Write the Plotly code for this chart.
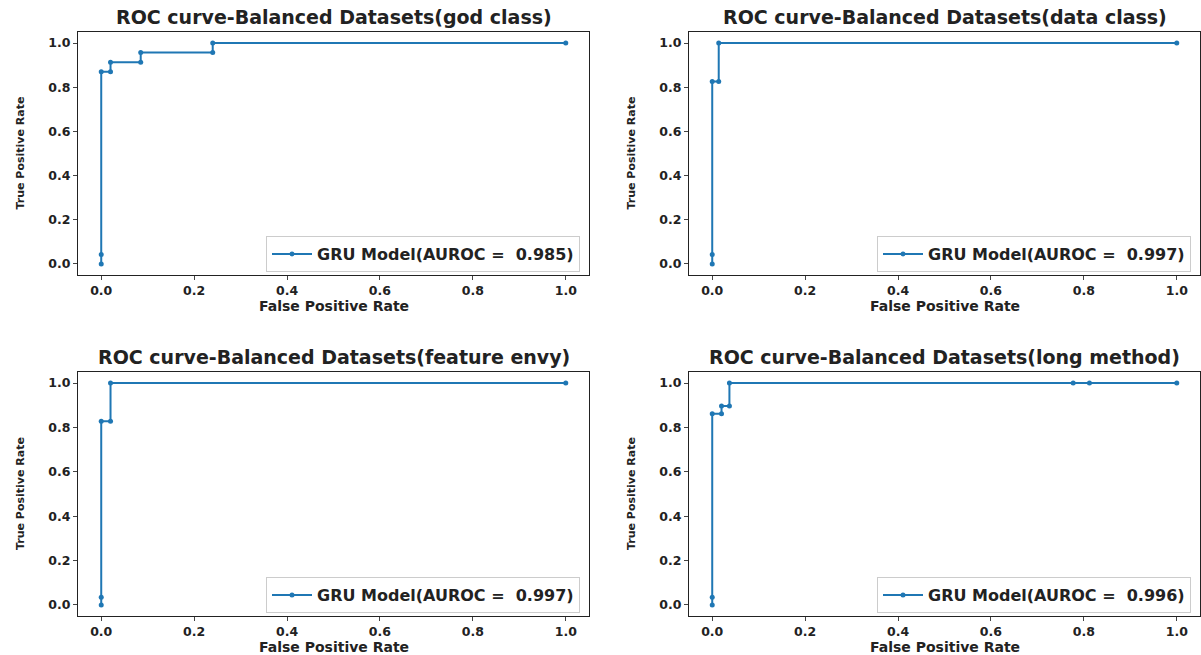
import plotly.graph_objects as go

# ROC curve points (false positive rate / true positive rate) per code smell
god_fpr = [0.0, 0.0, 0.0, 0.02, 0.02, 0.085, 0.085, 0.24, 0.24, 1.0]
god_tpr = [0.0, 0.043, 0.870, 0.870, 0.913, 0.913, 0.957, 0.957, 1.0, 1.0]

data_fpr = [0.0, 0.0, 0.0, 0.014, 0.014, 1.0]
data_tpr = [0.0, 0.043, 0.826, 0.826, 1.0, 1.0]

envy_fpr = [0.0, 0.0, 0.0, 0.02, 0.02, 1.0]
envy_tpr = [0.0, 0.034, 0.828, 0.828, 1.0, 1.0]

long_fpr = [0.0, 0.0, 0.0, 0.02, 0.02, 0.037, 0.037, 0.777, 0.812, 1.0]
long_tpr = [0.0, 0.034, 0.862, 0.862, 0.897, 0.897, 1.0, 1.0, 1.0, 1.0]

smells = ["god class", "data class", "feature envy", "long method"]
aurocs = [0.985, 0.997, 0.997, 0.996]
fprs = [god_fpr, data_fpr, envy_fpr, long_fpr]
tprs = [god_tpr, data_tpr, envy_tpr, long_tpr]

tick_vals = [0.0, 0.2, 0.4, 0.6, 0.8, 1.0]

W, H = 1201, 655
FONT = "DejaVu Sans"
LINE = "#1f77b4"

# panel boxes in pixels: (left, right, top, bottom)
boxes = [
    (78, 589, 32, 275),
    (689, 1200, 32, 275),
    (78, 589, 372, 616),
    (689, 1200, 372, 616),
]

fig = go.Figure()
layout = dict(
    width=W, height=H,
    margin=dict(l=0, r=0, t=0, b=0),
    paper_bgcolor="white", plot_bgcolor="white",
    font=dict(family=FONT, color="#222222"),
    showlegend=True,
)
annotations = []

for i, (name, auc, fx, ty) in enumerate(zip(smells, aurocs, fprs, tprs)):
    n = "" if i == 0 else str(i + 1)
    left, right, top, bottom = boxes[i]
    xd = [left / W, right / W]
    yd = [1 - bottom / H, 1 - top / H]
    leg = "legend" + n

    fig.add_trace(go.Scatter(
        x=fx, y=ty, mode="lines+markers",
        name="GRU Model(AUROC =\u00a0\u00a0%.3f)" % auc,
        line=dict(color=LINE, width=2),
        marker=dict(color=LINE, size=5),
        xaxis="x" + n, yaxis="y" + n, legend=leg,
    ))

    axis_common = dict(
        range=[-0.05, 1.05], tickvals=tick_vals, tickformat=".1f",
        showgrid=False, zeroline=False,
        showline=True, linecolor="#222222", linewidth=1, mirror=True,
        ticks="outside", ticklen=4, tickcolor="#444444",
        tickfont=dict(family=FONT, size=12.5, color="#222222", weight="bold"),
    )
    layout["xaxis" + n] = dict(axis_common, domain=xd, anchor="y" + n)
    layout["yaxis" + n] = dict(axis_common, domain=yd, anchor="x" + n)

    layout[leg] = dict(
        x=(right - 9) / W, y=1 - (bottom - 3) / H,
        xanchor="right", yanchor="bottom",
        bgcolor="rgba(255,255,255,0.85)",
        bordercolor="#cccccc", borderwidth=1,
        font=dict(family=FONT, size=16, color="#222222", weight="bold"),
        itemwidth=40, tracegroupgap=0,
    )

    cx = (left + right) / 2
    # subplot title
    annotations.append(dict(
        text="ROC curve-Balanced Datasets(%s)" % name,
        x=cx / W, y=1 - (top - 15) / H, xref="paper", yref="paper",
        showarrow=False, xanchor="center", yanchor="middle",
        font=dict(family=FONT, size=19, color="#222222", weight="bold"),
    ))
    # x axis label
    annotations.append(dict(
        text="False Positive Rate",
        x=cx / W, y=1 - (bottom + 31) / H, xref="paper", yref="paper",
        showarrow=False, xanchor="center", yanchor="middle",
        font=dict(family=FONT, size=14, color="#222222", weight="bold"),
    ))
    # y axis label
    annotations.append(dict(
        text="True Positive Rate",
        x=(left - 58) / W, y=1 - ((top + bottom) / 2) / H,
        xref="paper", yref="paper", textangle=-90,
        showarrow=False, xanchor="center", yanchor="middle",
        font=dict(family=FONT, size=11, color="#222222", weight="bold"),
    ))

layout["annotations"] = annotations
fig.update_layout(**layout)
fig.write_html("out.html")
